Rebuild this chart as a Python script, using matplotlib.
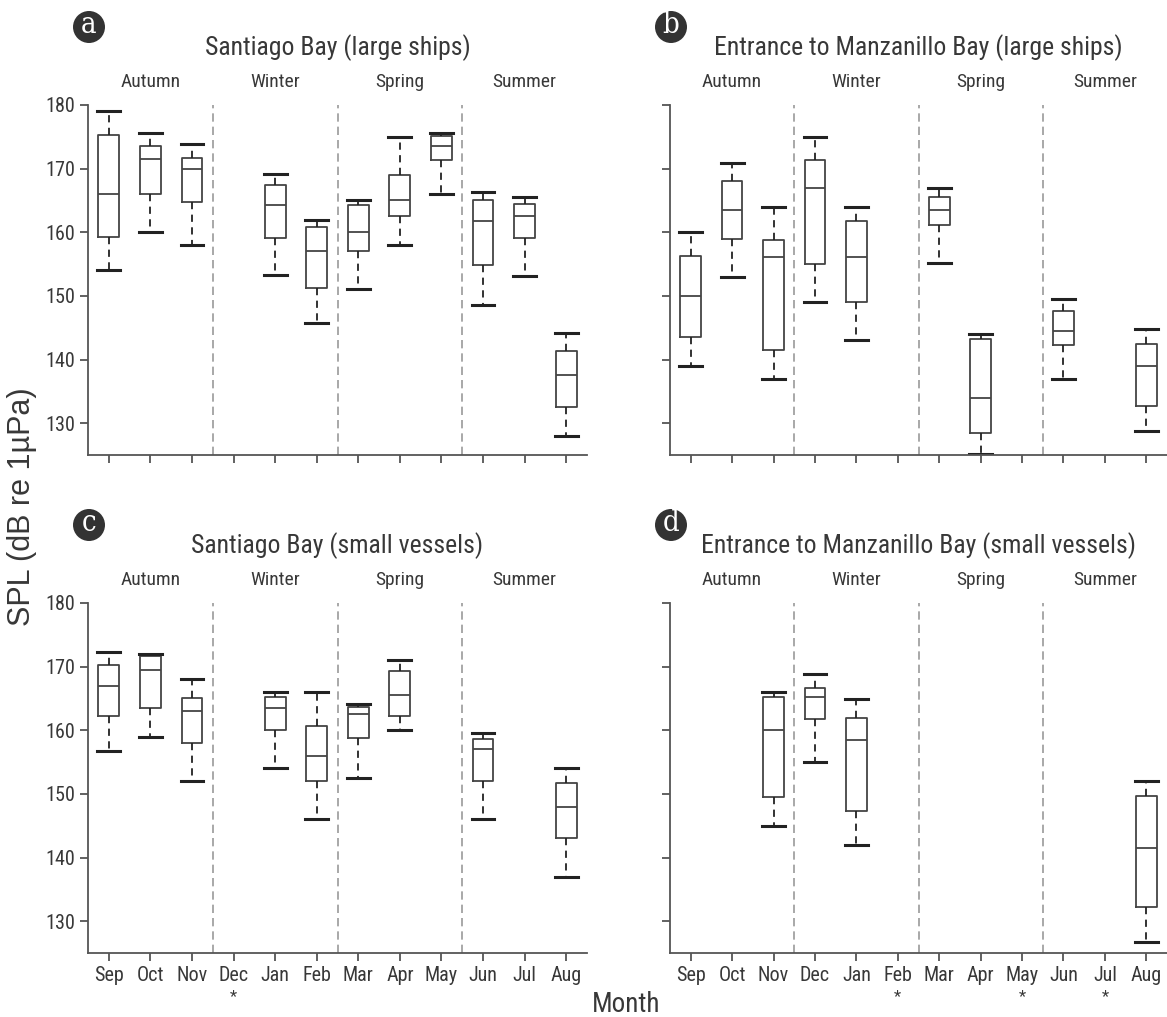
import matplotlib
matplotlib.use("Agg")
import matplotlib.pyplot as plt
from matplotlib import font_manager
from matplotlib.patches import Circle
from matplotlib.transforms import IdentityTransform, blended_transform_factory


# ============================
# DATA  (lo whisker, q1, median, q3, hi whisker) per month, None = no data
# ============================
MONTHS = ["Sep", "Oct", "Nov", "Dec", "Jan", "Feb",
          "Mar", "Apr", "May", "Jun", "Jul", "Aug"]
SEASONS = ["Autumn", "Winter", "Spring", "Summer"]

santiago_large = [
    (154.0, 159.3, 166.0, 175.3, 179.0),
    (160.0, 166.0, 171.5, 173.6, 175.6),
    (158.0, 164.8, 170.0, 171.7, 173.8),
    None,
    (153.3, 159.1, 164.3, 167.4, 169.2),
    (145.8, 151.2, 157.0, 160.9, 162.0),
    (151.1, 157.0, 160.0, 164.3, 165.1),
    (158.0, 162.5, 165.0, 169.0, 175.0),
    (166.0, 171.3, 173.6, 175.2, 175.6),
    (148.6, 154.9, 161.8, 165.0, 166.4),
    (153.1, 159.1, 162.6, 164.5, 165.6),
    (128.0, 132.5, 137.5, 141.4, 144.2),
]

manzanillo_large = [
    (139.0, 143.5, 150.0, 156.3, 160.0),
    (153.0, 159.0, 163.5, 168.0, 170.9),
    (137.0, 141.5, 156.1, 158.8, 164.0),
    (149.0, 155.0, 167.0, 171.4, 175.0),
    (143.0, 149.0, 156.1, 161.8, 164.0),
    None,
    (155.1, 161.1, 163.5, 165.5, 167.0),
    (125.1, 128.5, 134.0, 143.3, 144.0),
    None,
    (137.0, 142.3, 144.5, 147.6, 149.5),
    None,
    (128.8, 132.7, 139.0, 142.4, 144.8),
]

santiago_small = [
    (156.8, 162.2, 167.0, 170.2, 172.3),
    (158.9, 163.5, 169.5, 171.6, 172.0),
    (152.0, 158.0, 163.0, 165.0, 168.0),
    None,
    (154.0, 160.0, 163.5, 165.2, 166.0),
    (146.0, 152.0, 156.0, 160.7, 166.0),
    (152.5, 158.8, 162.5, 163.7, 164.2),
    (160.0, 162.3, 165.5, 169.3, 171.0),
    None,
    (146.0, 152.0, 157.0, 158.7, 159.5),
    None,
    (137.0, 143.0, 148.0, 151.7, 154.0),
]

manzanillo_small = [
    None,
    None,
    (145.0, 149.5, 160.0, 165.3, 166.0),
    (155.0, 161.7, 165.3, 166.7, 168.9),
    (142.0, 147.3, 158.5, 161.9, 164.9),
    None,
    None,
    None,
    None,
    None,
    None,
    (126.8, 132.3, 141.5, 149.7, 152.1),
]

# months flagged with an asterisk under the axis
flag_santiago_small = ["Dec"]
flag_manzanillo_small = ["Feb", "May", "Jul"]

PANELS = [
    ("a", "Santiago Bay (large ships)", santiago_large, []),
    ("b", "Entrance to Manzanillo Bay (large ships)", manzanillo_large, []),
    ("c", "Santiago Bay (small vessels)", santiago_small, flag_santiago_small),
    ("d", "Entrance to Manzanillo Bay (small vessels)", manzanillo_small, flag_manzanillo_small),
]

Y_TICKS = [130, 140, 150, 160, 170, 180]
Y_MIN, Y_MAX = 125, 180


# ============================
# STYLE
# ============================
def pick_narrow_font():
    entries = font_manager.fontManager.ttflist
    names = {f.name for f in entries}
    for n in ("Roboto Condensed", "Liberation Sans Narrow", "Arial Narrow",
              "Open Sans Condensed", "Noto Sans Condensed"):
        if n in names:
            return n, "normal"
    for n in ("Roboto", "Noto Sans", "Open Sans", "DejaVu Sans", "Inter", "Lato"):
        for st in ("condensed", "semi-condensed"):
            for f in entries:
                if f.name == n and str(f.stretch) == st and f.style == "normal":
                    return n, st
    return "Liberation Sans", "normal"


FONT, STRETCH = pick_narrow_font()
plt.rcParams["font.family"] = [FONT, "DejaVu Sans"]
plt.rcParams["font.stretch"] = STRETCH

TEXT = "#383838"
BOX = "#444444"
SPINE = "#555555"
DIVIDER = "#9a9a9a"

W, H = 1167, 1017
fig = plt.figure(figsize=(W / 100, H / 100), dpi=100)

# axes placement in pixels: left, top, width, height
POS = [(88, 105, 499, 350), (670, 105, 497, 350),
       (88, 603, 499, 350), (670, 603, 497, 350)]


def draw_panel(ax, letter, title, data, flags, left_col, bottom_row, pos):
    stats, where = [], []
    for i, d in enumerate(data):
        if d is None:
            continue
        lo, q1, med, q3, hi = d
        stats.append(dict(whislo=lo, q1=q1, med=med, q3=q3, whishi=hi, fliers=[]))
        where.append(i + 1)

    ax.bxp(stats, positions=where, widths=0.5, capwidths=0.55,
           showfliers=False, patch_artist=False,
           boxprops=dict(color=BOX, linewidth=1.3),
           medianprops=dict(color=BOX, linewidth=1.3),
           whiskerprops=dict(color="#222222", linewidth=1.3, linestyle=(0, (4, 3))),
           capprops=dict(color="#222222", linewidth=2.2))

    for x in (3.5, 6.5, 9.5):
        ax.axvline(x, color=DIVIDER, linewidth=1.2, linestyle=(0, (5, 3)), zorder=0)

    ax.set_xlim(0.5, 12.5)
    ax.set_ylim(Y_MIN, Y_MAX)
    ax.set_xticks(range(1, 13))
    ax.set_yticks(Y_TICKS)

    for side in ("top", "right"):
        ax.spines[side].set_visible(False)
    for side in ("left", "bottom"):
        ax.spines[side].set_color(SPINE)
        ax.spines[side].set_linewidth(1.3)
    ax.tick_params(colors=SPINE, width=1.3, length=6, labelcolor=TEXT, labelsize=14.5)

    trans = blended_transform_factory(ax.transData, ax.transAxes)
    if bottom_row:
        ax.set_xticklabels(MONTHS)
        for m in flags:
            ax.text(MONTHS.index(m) + 1, -0.125, "*", transform=trans,
                    ha="center", va="center", fontsize=12, color=TEXT)
    else:
        ax.set_xticklabels([])
    if not left_col:
        ax.set_yticklabels([])

    h = pos[3]
    ax.text(0.5, 1 + 57 / h, title, transform=ax.transAxes, ha="center", va="center",
            fontsize=18.5, color=TEXT)
    for k, s in enumerate(SEASONS):
        ax.text(2 + 3 * k, 1 + 23 / h, s, transform=trans,
                ha="center", va="center", fontsize=14, color=TEXT)

    # panel letter badge
    cx, cy = pos[0] + 1, H - (pos[1] - 78)
    fig.add_artist(Circle((cx, cy), 16, transform=IdentityTransform(),
                          facecolor="#333333", edgecolor="none"))
    fig.text(cx / W, (cy + 2) / H, letter, ha="center", va="center", color="white",
             fontsize=21, family="DejaVu Serif", fontstretch="condensed")


for idx, (letter, title, data, flags) in enumerate(PANELS):
    l, t, w, h = POS[idx]
    ax = fig.add_axes([l / W, (H - t - h) / H, w / W, h / H])
    draw_panel(ax, letter, title, data, flags, idx % 2 == 0, idx >= 2, POS[idx])

fig.text(22 / W, (H - 507) / H, "SPL (dB re 1\u00b5Pa)", rotation=90,
         ha="center", va="center", fontsize=22, color=TEXT,
         family="Liberation Sans", fontstretch="normal")
fig.text(626 / W, (H - 1004) / H, "Month", ha="center", va="center",
         fontsize=19.5, color=TEXT)

fig.savefig("out.png", dpi=100)
